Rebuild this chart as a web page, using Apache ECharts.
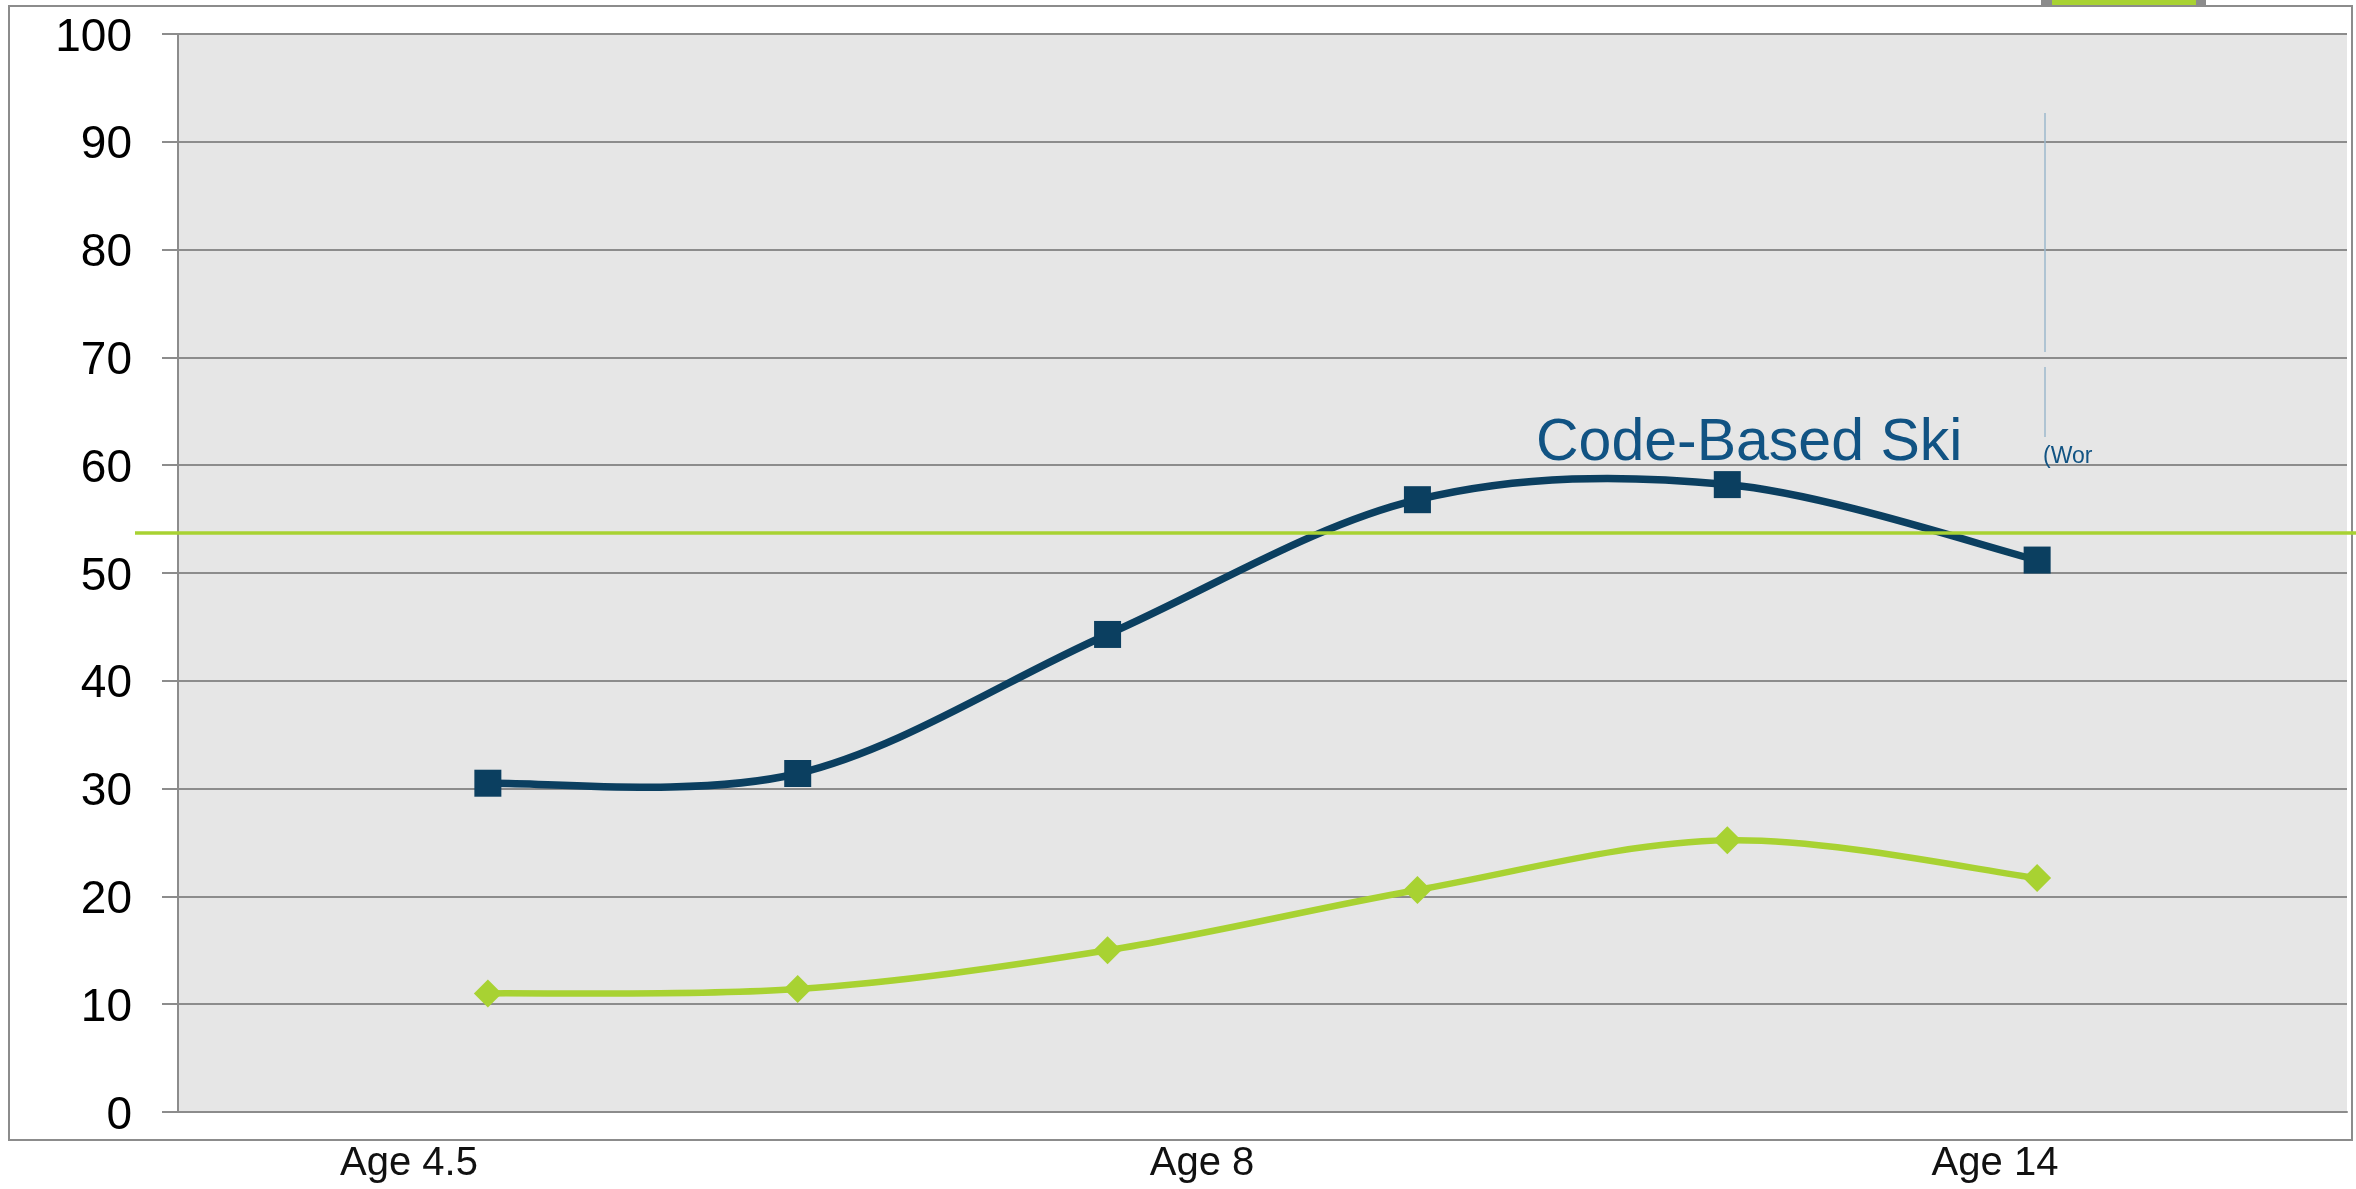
<!DOCTYPE html>
<html>
<head>
<meta charset="utf-8">
<script src="https://cdn.jsdelivr.net/npm/echarts@6/dist/echarts.min.js"></script>
<style>
  html, body { margin: 0; padding: 0; background: #fff; }
  #chart { width: 2356px; height: 1189px; }
</style>
</head>
<body>
<div id="chart"></div>
<script>
// values
const pointPos = [1, 2, 3, 4, 5, 6];
const codeBased = [30.5, 31.4, 44.3, 56.8, 58.2, 51.2];
const secondSeries = [11.0, 11.4, 15.0, 20.6, 25.2, 21.7];
const ageLabels = ['Age 4.5', 'Age 8', 'Age 14'];
const yMin = 0, yMax = 100, yStep = 10;
const refLevel = 53.7;

const FONT = '"Liberation Sans", Arial, sans-serif';
const GRID_GRAY = '#8c8c8c';
const BLUE = '#0b3f60';
const GREEN = '#a8d232';

let chartDom = document.getElementById('chart');
let myChart = echarts.init(chartDom);

// spreadsheet-style spline through the points, placed with the axis scales
function splineSeries(name, values, color, width) {
  return {
    name: name,
    type: 'custom',
    xAxisIndex: 0,
    yAxisIndex: 0,
    silent: true,
    z: 3,
    data: pointPos.map((p, i) => [p, values[i]]),
    renderItem: function (params, api) {
      if (params.dataIndex !== 0) return null;
      let pts = pointPos.map((p, i) => api.coord([p, values[i]]));
      let n = pts.length;
      let d = 'M' + pts[0][0] + ' ' + pts[0][1];
      for (let i = 0; i < n - 1; i++) {
        let p0 = pts[Math.max(i - 1, 0)];
        let p1 = pts[i];
        let p2 = pts[i + 1];
        let p3 = pts[Math.min(i + 2, n - 1)];
        let c1x = p1[0] + (p2[0] - p0[0]) / 6;
        let c1y = p1[1] + (p2[1] - p0[1]) / 6;
        let c2x = p2[0] - (p3[0] - p1[0]) / 6;
        let c2y = p2[1] - (p3[1] - p1[1]) / 6;
        d += ' C' + c1x + ' ' + c1y + ' ' + c2x + ' ' + c2y + ' ' + p2[0] + ' ' + p2[1];
      }
      return {
        type: 'path',
        shape: { pathData: d },
        style: { fill: null, stroke: color, lineWidth: width, lineJoin: 'round' }
      };
    }
  };
}

let option = {
  animation: false,
  backgroundColor: 'transparent',
  grid: [
    // plot area
    { left: 178, top: 34, right: 9, bottom: 77, show: true, backgroundColor: '#e6e6e6', borderWidth: 0 },
    // axis carrying the age labels (they sit off the data positions)
    { left: 409, width: 1586, top: 34, bottom: 77, show: false }
  ],
  xAxis: [
    {
      gridIndex: 0,
      type: 'value',
      min: 0,
      max: 7,
      axisLine: { show: true, lineStyle: { color: GRID_GRAY, width: 2 } },
      axisTick: { show: false },
      axisLabel: { show: false },
      splitLine: { show: false }
    },
    {
      gridIndex: 1,
      type: 'category',
      data: ageLabels,
      boundaryGap: false,
      axisLine: { show: false },
      axisTick: { show: false },
      splitLine: { show: false },
      axisLabel: { margin: 32, fontSize: 40, color: '#111', fontFamily: FONT }
    }
  ],
  yAxis: [
    {
      gridIndex: 0,
      type: 'value',
      min: yMin,
      max: yMax,
      interval: yStep,
      axisLine: { show: true, lineStyle: { color: GRID_GRAY, width: 2 } },
      axisTick: { show: true, length: 16, lineStyle: { color: GRID_GRAY, width: 2 } },
      axisLabel: {
        margin: 46, fontSize: 46, color: '#000', fontFamily: FONT,
        verticalAlign: 'top', lineHeight: 8
      },
      splitLine: { show: true, lineStyle: { color: GRID_GRAY, width: 2 } }
    },
    {
      gridIndex: 1,
      type: 'value',
      show: false
    }
  ],
  series: [
    splineSeries('Code-Based Skills', codeBased, BLUE, 7.5),
    splineSeries('Series 2', secondSeries, GREEN, 6.5),
    {
      name: 'Code-Based Skills',
      type: 'scatter',
      xAxisIndex: 0,
      yAxisIndex: 0,
      data: pointPos.map((p, i) => [p, codeBased[i]]),
      symbol: 'rect',
      symbolSize: 27,
      itemStyle: { color: BLUE, opacity: 1 },
      z: 6
    },
    {
      name: 'Series 2',
      type: 'scatter',
      xAxisIndex: 0,
      yAxisIndex: 0,
      data: pointPos.map((p, i) => [p, secondSeries[i]]),
      symbol: 'diamond',
      symbolSize: 28,
      itemStyle: { color: GREEN, opacity: 1 },
      z: 5
    }
  ]
};
myChart.setOption(option);

// overlay: border, stray legend fragment, reference line and text boxes
let refY = myChart.convertToPixel({ yAxisIndex: 0 }, refLevel);
myChart.setOption({
  graphic: [
    {
      type: 'rect', z: -10, silent: true,
      shape: { x: 9, y: 6, width: 2343, height: 1134 },
      style: { fill: '#fff', stroke: GRID_GRAY, lineWidth: 2 }
    },
    {
      type: 'rect', z: 10, silent: true,
      shape: { x: 2041, y: 0, width: 165, height: 5 },
      style: { fill: GRID_GRAY }
    },
    {
      type: 'rect', z: 11, silent: true,
      shape: { x: 2052, y: 0, width: 144, height: 5 },
      style: { fill: GREEN }
    },
    {
      type: 'line', z: 4, silent: true,
      shape: { x1: 135, y1: refY, x2: 2356, y2: refY },
      style: { stroke: GREEN, lineWidth: 3.5 }
    },
    {
      type: 'line', z: 4, silent: true,
      shape: { x1: 2045, y1: 113, x2: 2045, y2: 352 },
      style: { stroke: '#9db8cc', lineWidth: 1.5 }
    },
    {
      type: 'line', z: 4, silent: true,
      shape: { x1: 2045, y1: 367, x2: 2045, y2: 437 },
      style: { stroke: '#9db8cc', lineWidth: 1.5 }
    },
    {
      type: 'text', z: 6, silent: true,
      left: 1536, top: 414,
      style: { text: 'Code-Based Ski', fontSize: 59, fontFamily: FONT, fill: '#115383' }
    },
    {
      type: 'text', z: 6, silent: true,
      left: 2043, top: 445,
      style: { text: '(Wor', fontSize: 23, fontFamily: FONT, fill: '#115383' }
    }
  ]
});
</script>
</body>
</html>
